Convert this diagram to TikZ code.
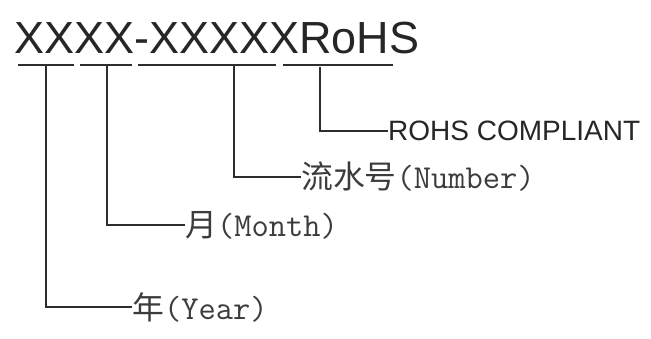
\documentclass[tikz,border=0pt]{standalone}
\usepackage{fontspec}
\setmainfont{Liberation Sans}
\newfontfamily\cjkfont[Scale=0.95]{Noto Sans CJK SC}
\usetikzlibrary{positioning}
\definecolor{inkgray}{RGB}{38, 38, 38}
\definecolor{linegray}{RGB}{45, 45, 45}
\definecolor{labelgray}{RGB}{60, 60, 60}

\begin{document}
\begin{tikzpicture}[
        x=1pt, y=-1pt,
        title/.style={anchor=base west, inner sep=0pt, text=inkgray, font=\fontsize{45}{45}\selectfont},
        field/.style={anchor=west, inner sep=0pt, text=labelgray, font=\fontsize{33.5}{34}\selectfont\ttfamily},
        tag/.style={anchor=west, inner sep=0pt, text=inkgray, font=\fontsize{28}{28}\selectfont},
        bar/.style={draw=linegray, line width=1.7pt},
        lead/.style={draw=linegray, line width=1.3pt}
    ]
        \useasboundingbox (0,0) rectangle (651,338);

        % Part number
        \node[title] (code) at (14,53) {XXXX-XXXXXRoHS};

        % Underlines below the fields
        \foreach \a/\b in {18/74, 80/132, 138/276, 283/393}
            \draw[bar] (\a,65) -- (\b,65);

        % Field labels
        \node[tag] (rohs) at (388,131) {ROHS COMPLIANT};
        \node[field] (number) at (301,177) {{\cjkfont 流水号}(Number)};
        \node[field] (month) at (185,225) {{\cjkfont 月}(Month)};
        \node[field] (year) at (132,307) {{\cjkfont 年}(Year)};

        % Leaders
        \coordinate (yeartop) at (46,65);
        \coordinate (monthtop) at (107,65);
        \coordinate (numbertop) at (234,65);
        \coordinate (rohstop) at (320,67);
        \draw[lead] (yeartop) |- (year.west);
        \draw[lead] (monthtop) |- (month.west);
        \draw[lead] (numbertop) |- (number.west);
        \draw[lead] (rohstop) |- (rohs.west);
    \end{tikzpicture}
\end{document}
